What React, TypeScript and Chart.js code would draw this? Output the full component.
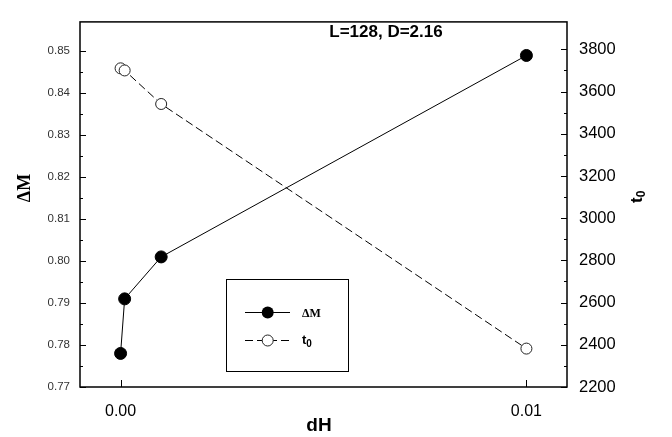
import React, { useEffect, useRef } from "react";
import { Chart, registerables } from "chart.js";

Chart.register(...registerables);

// ---- data ----
const dHValues = [0, 0.0001, 0.001, 0.01];
const deltaMValues = [0.778, 0.791, 0.801, 0.849];
const t0Values = [3710, 3700, 3541, 2382];

// ---- tick labels ----
const xTickValues = [0, 0.01];
const leftTickValues = [0.77, 0.78, 0.79, 0.8, 0.81, 0.82, 0.83, 0.84, 0.85];
const rightTickValues = [2200, 2400, 2600, 2800, 3000, 3200, 3400, 3600, 3800];

const annotationText = "L=128, D=2.16";

const SANS = "'Liberation Sans', Arial, sans-serif";
const SERIF = "'Liberation Serif', 'Times New Roman', serif";

const decorPlugin = {
  id: "decor",
  afterDraw(chart: any) {
    const { ctx, chartArea: a, scales } = chart;
    const x = scales.x, y = scales.y, y1 = scales.y1;
    ctx.save();
    // frame
    ctx.strokeStyle = "#000";
    ctx.lineWidth = 1.5;
    ctx.strokeRect(a.left, a.top, a.right - a.left, a.bottom - a.top);

    // inward ticks
    ctx.lineWidth = 1;
    ctx.beginPath();
    leftTickValues.forEach((v, i) => {
      const py = Math.round(y.getPixelForValue(v)) + 0.5;
      ctx.moveTo(a.left, py); ctx.lineTo(a.left + 6, py);
      if (i < leftTickValues.length - 1) {
        const pm = Math.round(y.getPixelForValue((v + leftTickValues[i + 1]) / 2)) + 0.5;
        ctx.moveTo(a.left, pm); ctx.lineTo(a.left + 3, pm);
      }
    });
    rightTickValues.forEach((v, i) => {
      const py = Math.round(y1.getPixelForValue(v)) + 0.5;
      ctx.moveTo(a.right, py); ctx.lineTo(a.right - 6, py);
      if (i < rightTickValues.length - 1) {
        const pm = Math.round(y1.getPixelForValue((v + rightTickValues[i + 1]) / 2)) + 0.5;
        ctx.moveTo(a.right, pm); ctx.lineTo(a.right - 3, pm);
      }
    });
    xTickValues.forEach((v) => {
      const px = Math.round(x.getPixelForValue(v)) + 0.5;
      ctx.moveTo(px, a.bottom); ctx.lineTo(px, a.bottom - 7);
    });
    ctx.stroke();

    // annotation
    ctx.fillStyle = "#000";
    ctx.font = `bold 17px ${SANS}`;
    ctx.textAlign = "center";
    ctx.textBaseline = "middle";
    ctx.fillText(annotationText, 386, 32);

    // axis titles
    ctx.font = `bold 19px ${SANS}`;
    ctx.fillText("dH", 319, 426);

    ctx.save();
    ctx.translate(25, 188);
    ctx.rotate(-Math.PI / 2);
    ctx.font = `bold 18px ${SERIF}`;
    ctx.fillText("\u0394M", 0, 0);
    ctx.restore();

    ctx.save();
    ctx.translate(637, 196);
    ctx.rotate(-Math.PI / 2);
    ctx.textAlign = "left";
    ctx.font = `bold 17px ${SANS}`;
    ctx.fillText("t", -7, 0);
    const tw = ctx.measureText("t").width;
    ctx.font = `bold 12px ${SANS}`;
    ctx.fillText("0", -7 + tw, 5);
    ctx.restore();

    // legend
    const lx = 226.5, ly = 279.5, lw = 122, lh = 92;
    ctx.lineWidth = 1;
    ctx.strokeStyle = "#000";
    ctx.strokeRect(lx, ly, lw, lh);
    const r1 = 312.5, r2 = 340.5;
    ctx.beginPath();
    ctx.moveTo(245, r1); ctx.lineTo(290, r1);
    ctx.stroke();
    ctx.beginPath();
    ctx.arc(267.7, r1, 6, 0, Math.PI * 2);
    ctx.fillStyle = "#000";
    ctx.fill();
    ctx.setLineDash([8, 4]);
    ctx.beginPath();
    ctx.moveTo(245, r2); ctx.lineTo(290, r2);
    ctx.stroke();
    ctx.setLineDash([]);
    ctx.beginPath();
    ctx.arc(267.7, r2, 5.5, 0, Math.PI * 2);
    ctx.fillStyle = "#fff";
    ctx.fill();
    ctx.strokeStyle = "#222";
    ctx.stroke();
    ctx.fillStyle = "#000";
    ctx.textAlign = "left";
    ctx.font = `bold 12px ${SERIF}`;
    ctx.fillText("\u0394M", 302, r1 + 1);
    ctx.font = `bold 13px ${SANS}`;
    ctx.fillText("t", 302, r2);
    const tw2 = ctx.measureText("t").width;
    ctx.font = `bold 10px ${SANS}`;
    ctx.fillText("0", 302 + tw2, r2 + 4);
    ctx.restore();
  },
};

export default function App() {
  const ref = useRef<HTMLCanvasElement | null>(null);
  useEffect(() => {
    if (!ref.current) return;
    const chart = new Chart(ref.current, {
      type: "scatter",
      data: {
        datasets: [
          {
            label: "\u0394M",
            data: dHValues.map((v, i) => ({ x: v, y: deltaMValues[i] })),
            yAxisID: "y",
            showLine: true,
            borderColor: "#000",
            borderWidth: 1,
            backgroundColor: "#000",
            pointBackgroundColor: "#000",
            pointBorderColor: "#000",
            pointRadius: 6,
          },
          {
            label: "t0",
            data: dHValues.map((v, i) => ({ x: v, y: t0Values[i] })),
            yAxisID: "y1",
            showLine: true,
            borderColor: "#000",
            borderWidth: 1,
            borderDash: [8, 4],
            backgroundColor: "#fff",
            pointBackgroundColor: "#fff",
            pointBorderColor: "#222",
            pointBorderWidth: 1,
            pointRadius: 5.5,
          },
        ],
      },
      options: {
        animation: false,
        responsive: false,
        maintainAspectRatio: false,
        layout: { padding: { top: 5, left: 0, right: 0, bottom: 0 } },
        plugins: { legend: { display: false }, tooltip: { enabled: false } },
        scales: {
          x: {
            type: "linear",
            min: -0.001,
            max: 0.011,
            grid: { display: false, drawTicks: false },
            border: { display: false },
            afterBuildTicks: (s: any) => { s.ticks = xTickValues.map((v) => ({ value: v })); },
            afterFit: (s: any) => { s.height = 50; },
            ticks: {
              padding: 15,
              color: "#000",
              font: { family: SANS, size: 16 },
              callback: (v: any) => Number(v).toFixed(2),
            },
          },
          y: {
            type: "linear",
            position: "left",
            min: 0.77,
            max: 0.857,
            grid: { display: false, drawTicks: false },
            border: { display: false },
            afterBuildTicks: (s: any) => { s.ticks = leftTickValues.map((v) => ({ value: v })); },
            afterFit: (s: any) => { s.width = 80; },
            ticks: {
              padding: 10,
              color: "#333",
              font: { family: SANS, size: 11.5 },
              callback: (v: any) => Number(v).toFixed(2),
            },
          },
          y1: {
            type: "linear",
            position: "right",
            min: 2200,
            max: 3930,
            grid: { display: false, drawTicks: false },
            border: { display: false },
            afterBuildTicks: (s: any) => { s.ticks = rightTickValues.map((v) => ({ value: v })); },
            afterFit: (s: any) => { s.width = 105; },
            ticks: {
              padding: 12,
              color: "#000",
              font: { family: SANS, size: 16.5 },
              callback: (v: any) => String(v),
            },
          },
        },
      },
      plugins: [decorPlugin],
    } as any);
    return () => chart.destroy();
  }, []);
  return (
    <div style={{ position: "absolute", left: 0, top: 0, width: 672, height: 437, background: "#fff" }}>
      <canvas ref={ref} width={672} height={437} style={{ width: 672, height: 437 }} />
    </div>
  );
}
